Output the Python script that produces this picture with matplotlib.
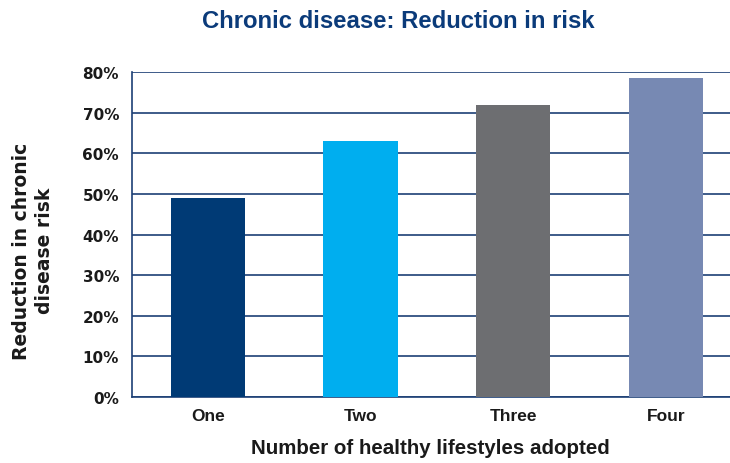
import matplotlib
matplotlib.use("Agg")
import matplotlib.pyplot as plt
from matplotlib.ticker import FuncFormatter

categories = ["One", "Two", "Three", "Four"]
risk_reduction = [49.0, 63.1, 72.0, 78.6]
bar_colors = ["#003a75", "#00aeef", "#6d6e71", "#7789b3"]
y_ticks = [0, 10, 20, 30, 40, 50, 60, 70, 80]

navy = "#1c3f75"
arialish = ["Liberation Sans", "DejaVu Sans"]

fig = plt.figure(figsize=(7.3, 4.64), dpi=100)
ax = fig.add_axes([131.5 / 730, 66 / 464, 598.5 / 730, 324.7 / 464])

x = range(len(categories))
ax.bar(x, risk_reduction, width=0.485, color=bar_colors, zorder=3)

ax.set_xlim(-0.5, 3.42)
ax.set_ylim(0, 80)
ax.set_yticks(y_ticks)
ax.yaxis.set_major_formatter(FuncFormatter(lambda v, _: f"{int(v)}%"))
ax.set_xticks(list(x))
ax.set_xticklabels(categories)

ax.grid(axis="y", color=navy, linewidth=1.2, zorder=1)
ax.tick_params(axis="y", length=0, labelsize=11, pad=9)
ax.tick_params(axis="x", length=0, labelsize=12.5, pad=8)
for lab in ax.get_yticklabels():
    lab.set_fontweight("bold")
    lab.set_color("#1a1a1a")
for lab in ax.get_xticklabels():
    lab.set_fontweight("bold")
    lab.set_color("#1a1a1a")
    lab.set_family(arialish)

for side in ["top", "right"]:
    ax.spines[side].set_visible(False)
for side in ["left", "bottom"]:
    ax.spines[side].set_color(navy)
    ax.spines[side].set_linewidth(1.2)

ax.set_xlabel("Number of healthy lifestyles adopted", fontsize=14.8,
              fontweight="bold", labelpad=11, color="#1a1a1a", family=arialish)
ax.set_ylabel("Reduction in chronic\ndisease risk", fontsize=13.5,
              fontweight="bold", color="#1a1a1a", linespacing=1.3)
ax.yaxis.set_label_coords(-0.129, 0.453)

fig.text(398 / 730, 1 - 22 / 464, "Chronic disease: Reduction in risk",
         ha="center", va="center", fontsize=17.2, fontweight="bold",
         color="#0b3b7a", family=arialish)

fig.savefig("out.png", dpi=100)
